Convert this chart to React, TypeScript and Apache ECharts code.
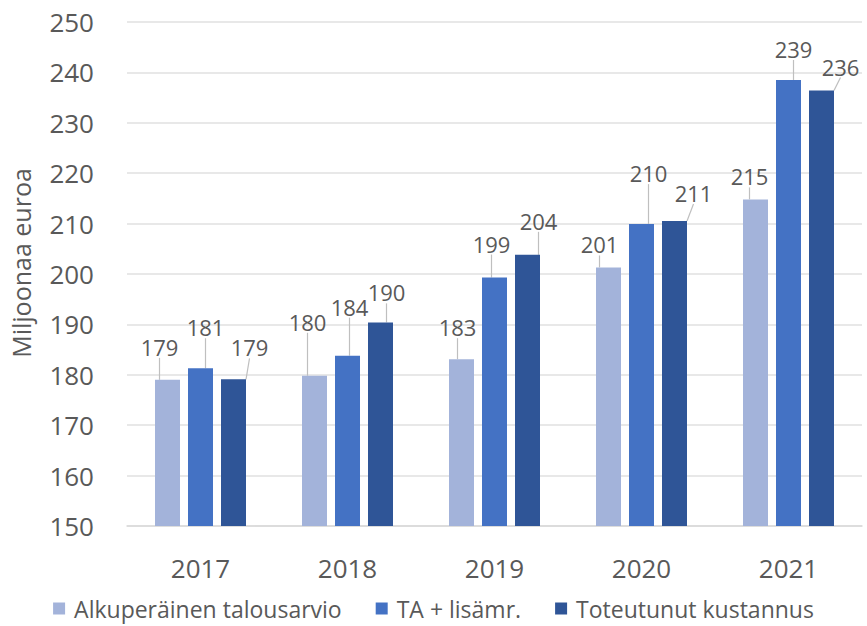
import React, { useEffect, useRef } from "react";
import * as echarts from "echarts";

const years = ["2017", "2018", "2019", "2020", "2021"];
const seriesNames = ["Alkuperäinen talousarvio", "TA + lisämr.", "Toteutunut kustannus"];
const alkuperainen = [179.0, 179.8, 183.1, 201.3, 214.8];
const taLisa = [181.3, 183.8, 199.3, 209.9, 238.5];
const toteutunut = [179.1, 190.4, 203.8, 210.5, 236.4];
const yTicks = { min: 150, max: 250, interval: 10 };

// label callout offsets (dx, dy) from the bar's top centre, per series per year
const calloutOffsets = [
  [[-8, -33], [-7, -54], [-4, -32], [-9, -23], [-6, -23]],
  [[5, -41], [2, -49], [-3, -34], [7, -51], [5, -31]],
  [[16, -32], [6, -30], [11, -34], [19, -28], [19, -24]],
];

const colors = ["#a3b3da", "#4472c4", "#2f5597"];
const FONT = "Open Sans";

export default function App() {
  const ref = useRef<HTMLDivElement>(null);
  useEffect(() => {
    if (!ref.current) return;
    const chart = echarts.init(ref.current, undefined, { renderer: "svg" });
    const datasets = [alkuperainen, taLisa, toteutunut];
    chart.setOption({
      animation: false,
      textStyle: { fontFamily: FONT },
      grid: { left: 122, right: 5, top: 22, bottom: 100 },
      legend: {
        top: 597,
        left: "center",
        padding: 0,
        icon: "rect",
        itemWidth: 12,
        itemHeight: 12,
        itemGap: 34,
        textStyle: {
          fontSize: 23,
          lineHeight: 22,
          color: "#595959",
          fontFamily: FONT,
          padding: [0, 0, 0, 4],
        },
        data: seriesNames,
      },
      xAxis: {
        type: "category",
        data: years,
        axisTick: { show: false },
        axisLine: { lineStyle: { color: "#d9d9d9", width: 1.5 } },
        axisLabel: { fontSize: 26, color: "#595959", margin: 29, fontFamily: FONT },
      },
      yAxis: {
        type: "value",
        min: yTicks.min,
        max: yTicks.max,
        interval: yTicks.interval,
        name: "Miljoonaa euroa",
        nameLocation: "middle",
        nameGap: 94,
        nameTextStyle: {
          fontSize: 25,
          color: "#595959",
          fontFamily: FONT,
          padding: [0, 0, 0, 22],
        },
        axisLabel: { fontSize: 26, color: "#595959", margin: 33, fontFamily: FONT },
        splitLine: { lineStyle: { color: "#e0e0e0", width: 1.5 } },
        axisLine: { show: false },
        axisTick: { show: false },
      },
      series: datasets.map((d, si) => ({
        name: seriesNames[si],
        type: "bar",
        data: d,
        barWidth: 25,
        barGap: "32%",
        itemStyle: { color: colors[si] },
        label: {
          show: true,
          position: "top",
          fontSize: 22,
          color: "#595959",
          fontFamily: FONT,
          formatter: (p: any) => String(Math.round(p.value)),
        },
        labelLine: { show: true, lineStyle: { color: "#bfbfbf", width: 1.2 } },
        labelLayout: (p: any) => {
          const off = calloutOffsets[si][p.dataIndex];
          const r = p.rect;
          return {
            x: r.x + r.width / 2 + off[0],
            y: r.y + off[1],
            align: "center",
            verticalAlign: "middle",
          };
        },
      })),
    });
    return () => chart.dispose();
  }, []);
  return (
    <div style={{ position: "fixed", left: 0, top: 0, width: 867, height: 626, background: "#fff" }}>
      <div ref={ref} style={{ width: 867, height: 626 }} />
    </div>
  );
}
